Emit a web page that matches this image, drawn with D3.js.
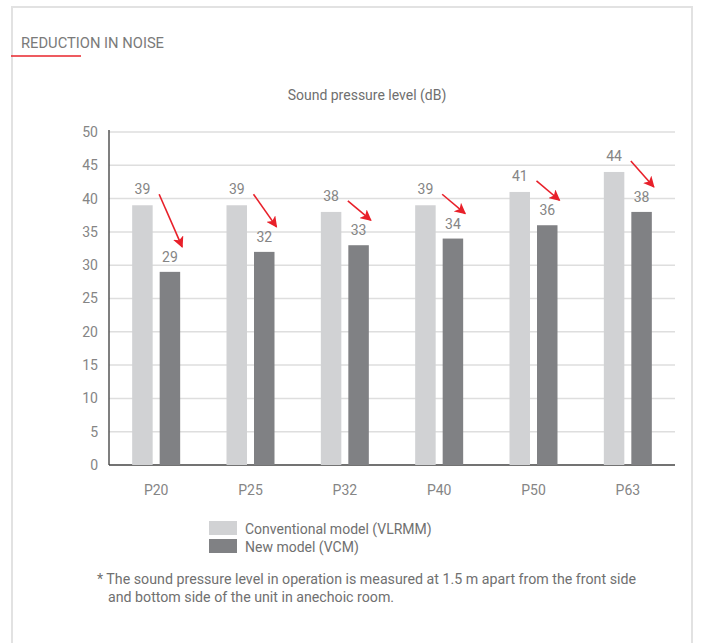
<!DOCTYPE html>
<html><head><meta charset="utf-8">
<script src="https://cdn.jsdelivr.net/npm/d3@7"></script>
<style>body{margin:0;background:#fff;} text{font-family:Roboto,"Liberation Sans",sans-serif;}</style>
</head><body><svg id="c" width="701" height="643"></svg>
<script>
const categories = ["P20","P25","P32","P40","P50","P63"];
const conventional = [39,39,38,39,41,44];
const newModel = [29,32,33,34,36,38];
const yTicks = [0,5,10,15,20,25,30,35,40,45,50];
const seriesNames = ["Conventional model (VLRMM)","New model (VCM)"];
const colors = ["#d1d2d4","#808184"];

(function(){
const svg = d3.select("#c");
const textColor = "#858585";

// frame
svg.append("path").attr("d","M12,643 L12,7 L692,7 L692,643").attr("fill","none").attr("stroke","#e2e2e2").attr("stroke-width",2);
svg.append("text").attr("x",21).attr("y",48).attr("font-size",15).attr("fill","#7a7a7a")
  .attr("textLength",143).attr("lengthAdjust","spacingAndGlyphs").text("REDUCTION IN NOISE");
svg.append("line").attr("x1",11).attr("x2",81).attr("y1",56).attr("y2",56).attr("stroke","#e8242b").attr("stroke-width",1.5);

const pL=109, pR=675, pT=132, pB=465;
const x = d3.scaleBand().domain(categories).range([pL,pR]).padding(0);
const y = d3.scaleLinear().domain([0,50]).range([pB,pT]);

// grid
svg.append("g").selectAll("line").data(yTicks.filter(d=>d>0)).join("line")
  .attr("x1",pL).attr("x2",pR).attr("y1",d=>y(d)).attr("y2",d=>y(d))
  .attr("stroke","#dedede").attr("stroke-width",1.5);

// y axis
const yAxis = svg.append("g").attr("transform",`translate(${pL},0)`)
  .call(d3.axisLeft(y).tickValues(yTicks).tickSize(0).tickPadding(11));
yAxis.select(".domain").attr("stroke","#555").attr("stroke-width",1.5).attr("d",`M0,${pT-2}V${pB}`);
yAxis.selectAll("text").attr("font-size",14).attr("fill",textColor).attr("font-family","Roboto");

// x axis
const xAxis = svg.append("g").attr("transform",`translate(0,${pB})`)
  .call(d3.axisBottom(x).tickSize(0).tickPadding(20));
xAxis.select(".domain").attr("stroke","#444").attr("stroke-width",1.5).attr("d",`M${pL},0H${pR}`);
xAxis.selectAll("text").attr("font-size",14).attr("fill",textColor).attr("font-family","Roboto");

const bw = 20.5, gap = 3.5;
const cx = c => x(c)+x.bandwidth()/2;

// bars
svg.append("g").selectAll("rect").data(categories).join("rect")
  .attr("x",c=>cx(c)-gap-bw).attr("width",bw)
  .attr("y",(c,i)=>y(conventional[i])).attr("height",(c,i)=>y(0)-y(conventional[i]))
  .attr("fill",colors[0]);
svg.append("g").selectAll("rect").data(categories).join("rect")
  .attr("x",c=>cx(c)+gap).attr("width",bw)
  .attr("y",(c,i)=>y(newModel[i])).attr("height",(c,i)=>y(0)-y(newModel[i]))
  .attr("fill",colors[1]);

// value labels
svg.append("g").selectAll("text").data(categories).join("text")
  .attr("x",c=>cx(c)-gap-bw/2).attr("y",(c,i)=>y(conventional[i])-11)
  .attr("text-anchor","middle").attr("font-size",14).attr("fill",textColor)
  .text((c,i)=>conventional[i]);
svg.append("g").selectAll("text").data(categories).join("text")
  .attr("x",c=>cx(c)+gap+bw/2).attr("y",(c,i)=>y(newModel[i])-10)
  .attr("text-anchor","middle").attr("font-size",14).attr("fill",textColor)
  .text((c,i)=>newModel[i]);

// arrows
const defs = svg.append("defs");
defs.append("marker").attr("id","ah").attr("viewBox","0 0 10 10").attr("refX",9).attr("refY",5)
  .attr("markerWidth",7).attr("markerHeight",7).attr("markerUnits","strokeWidth").attr("orient","auto")
  .append("path").attr("d","M0,0 L10,5 L0,10 L2.5,5 Z").attr("fill","#e8202a");
svg.append("g").selectAll("line").data(categories).join("line")
  .attr("x1",c=>cx(c)+3).attr("y1",(c,i)=>y(conventional[i])-11)
  .attr("x2",c=>cx(c)+26).attr("y2",(c,i)=>y(newModel[i])-25)
  .attr("stroke","#e8202a").attr("stroke-width",1.6).attr("marker-end","url(#ah)");

// axis title
svg.append("text").attr("x",367).attr("y",100).attr("text-anchor","middle").attr("font-size",14)
  .attr("fill","#6f6f6f").text("Sound pressure level (dB)");

// legend
const lg = svg.append("g");
seriesNames.forEach((n,i)=>{
  lg.append("rect").attr("x",209).attr("y",521+i*18).attr("width",28).attr("height",14).attr("fill",colors[i]);
  lg.append("text").attr("x",245).attr("y",534+i*18).attr("font-size",14).attr("fill","#707070").text(n);
});

// footnote
svg.append("text").attr("x",97).attr("y",584).attr("font-size",14.2).attr("fill","#707070")
  .attr("textLength",539).attr("lengthAdjust","spacingAndGlyphs")
  .text("* The sound pressure level in operation is measured at 1.5 m apart from the front side");
svg.append("text").attr("x",108).attr("y",602).attr("font-size",14.2).attr("fill","#707070")
  .text("and bottom side of the unit in anechoic room.");
})();
</script></body></html>
